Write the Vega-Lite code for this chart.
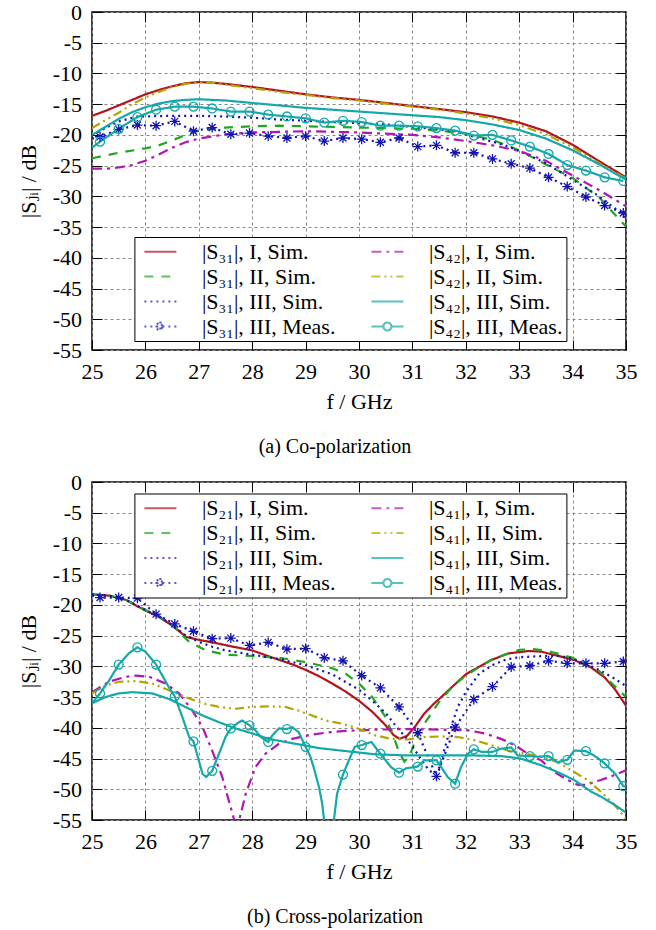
{
  "$schema": "https://vega.github.io/schema/vega-lite/v6.json",
  "background": "white",
  "padding": {"left": 16, "top": 0, "right": 5, "bottom": 5},
  "spacing": 12,
  "config": {
    "font": "'Liberation Serif', 'Times New Roman', Times, 'DejaVu Serif', serif",
    "view": {"stroke": "black", "strokeWidth": 1.5},
    "axis": {
      "labelFont": "'Liberation Serif', 'Times New Roman', Times, 'DejaVu Serif', serif", "labelFontSize": 22, "labelColor": "black",
      "titleFont": "'Liberation Serif', 'Times New Roman', Times, 'DejaVu Serif', serif", "titleFontSize": 22, "titleFontWeight": "normal", "titleColor": "black",
      "tickColor": "black", "tickWidth": 1, "tickSize": -10, "domain": false,
      "gridColor": "#888888", "gridDash": [3, 3], "gridWidth": 1, "gridOpacity": 1,
      "labelFlush": false, "labelOverlap": false
    },
    "legend": {
      "orient": "none", "columns": 2,
      "symbolSize": 400, "symbolStrokeWidth": 2.2, "symbolOffset": 11.5, "symbolFillColor": "transparent",
      "labelOffset": 30, "labelFont": "'Liberation Serif', 'Times New Roman', Times, 'DejaVu Serif', serif", "labelFontSize": 22, "labelColor": "black", "labelLimit": 0,
      "strokeColor": "black", "fillColor": "white", "padding": 3, "rowPadding": 2, "columnPadding": 28, "cornerRadius": 0
    },
    "title": {"font": "'Liberation Serif', 'Times New Roman', Times, 'DejaVu Serif', serif", "fontSize": 20, "fontWeight": "normal", "color": "black"}
  },
  "resolve": {"scale": {"color": "independent", "strokeDash": "independent", "shape": "independent", "x": "independent", "y": "independent"}},
  "datasets": {
    "a_lines": [
      {"s": "|S₃₁|, I, Sim.", "f": 25, "dB": -16.9}, {"s": "|S₃₁|, I, Sim.", "f": 25.25, "dB": -16.1}, {"s": "|S₃₁|, I, Sim.", "f": 25.5, "dB": -15.2}, {"s": "|S₃₁|, I, Sim.", "f": 25.75, "dB": -14.3}, {"s": "|S₃₁|, I, Sim.", "f": 26, "dB": -13.4}, {"s": "|S₃₁|, I, Sim.", "f": 26.25, "dB": -12.7}, {"s": "|S₃₁|, I, Sim.", "f": 26.5, "dB": -12.1}, {"s": "|S₃₁|, I, Sim.", "f": 26.75, "dB": -11.6}, {"s": "|S₃₁|, I, Sim.", "f": 27, "dB": -11.4}, {"s": "|S₃₁|, I, Sim.", "f": 27.25, "dB": -11.5}, {"s": "|S₃₁|, I, Sim.", "f": 27.5, "dB": -11.7}, {"s": "|S₃₁|, I, Sim.", "f": 28, "dB": -12.2}, {"s": "|S₃₁|, I, Sim.", "f": 28.5, "dB": -12.8}, {"s": "|S₃₁|, I, Sim.", "f": 29, "dB": -13.4}, {"s": "|S₃₁|, I, Sim.", "f": 29.5, "dB": -13.9}, {"s": "|S₃₁|, I, Sim.", "f": 30, "dB": -14.3}, {"s": "|S₃₁|, I, Sim.", "f": 30.5, "dB": -14.8}, {"s": "|S₃₁|, I, Sim.", "f": 31, "dB": -15.3}, {"s": "|S₃₁|, I, Sim.", "f": 31.5, "dB": -15.8}, {"s": "|S₃₁|, I, Sim.", "f": 32, "dB": -16.3}, {"s": "|S₃₁|, I, Sim.", "f": 32.5, "dB": -17.0}, {"s": "|S₃₁|, I, Sim.", "f": 33, "dB": -18.0}, {"s": "|S₃₁|, I, Sim.", "f": 33.5, "dB": -19.4}, {"s": "|S₃₁|, I, Sim.", "f": 34, "dB": -21.6}, {"s": "|S₃₁|, I, Sim.", "f": 34.5, "dB": -24.3}, {"s": "|S₃₁|, I, Sim.", "f": 35, "dB": -26.9},
      {"s": "|S₃₁|, II, Sim.", "f": 25, "dB": -23.8}, {"s": "|S₃₁|, II, Sim.", "f": 25.5, "dB": -22.9}, {"s": "|S₃₁|, II, Sim.", "f": 26, "dB": -22.2}, {"s": "|S₃₁|, II, Sim.", "f": 26.25, "dB": -21.7}, {"s": "|S₃₁|, II, Sim.", "f": 26.5, "dB": -20.9}, {"s": "|S₃₁|, II, Sim.", "f": 26.75, "dB": -20.0}, {"s": "|S₃₁|, II, Sim.", "f": 27, "dB": -19.3}, {"s": "|S₃₁|, II, Sim.", "f": 27.5, "dB": -18.8}, {"s": "|S₃₁|, II, Sim.", "f": 28, "dB": -18.6}, {"s": "|S₃₁|, II, Sim.", "f": 28.5, "dB": -18.5}, {"s": "|S₃₁|, II, Sim.", "f": 29, "dB": -18.6}, {"s": "|S₃₁|, II, Sim.", "f": 29.5, "dB": -18.7}, {"s": "|S₃₁|, II, Sim.", "f": 30, "dB": -18.8}, {"s": "|S₃₁|, II, Sim.", "f": 30.5, "dB": -18.9}, {"s": "|S₃₁|, II, Sim.", "f": 31, "dB": -19.0}, {"s": "|S₃₁|, II, Sim.", "f": 31.5, "dB": -19.3}, {"s": "|S₃₁|, II, Sim.", "f": 32, "dB": -19.8}, {"s": "|S₃₁|, II, Sim.", "f": 32.5, "dB": -20.8}, {"s": "|S₃₁|, II, Sim.", "f": 33, "dB": -22.5}, {"s": "|S₃₁|, II, Sim.", "f": 33.5, "dB": -24.8}, {"s": "|S₃₁|, II, Sim.", "f": 34, "dB": -27.0}, {"s": "|S₃₁|, II, Sim.", "f": 34.5, "dB": -30.2}, {"s": "|S₃₁|, II, Sim.", "f": 35, "dB": -34.9},
      {"s": "|S₃₁|, III, Sim.", "f": 25, "dB": -20.0}, {"s": "|S₃₁|, III, Sim.", "f": 25.25, "dB": -18.9}, {"s": "|S₃₁|, III, Sim.", "f": 25.5, "dB": -17.8}, {"s": "|S₃₁|, III, Sim.", "f": 25.85, "dB": -17.0}, {"s": "|S₃₁|, III, Sim.", "f": 26.5, "dB": -16.9}, {"s": "|S₃₁|, III, Sim.", "f": 27, "dB": -16.9}, {"s": "|S₃₁|, III, Sim.", "f": 27.5, "dB": -17.0}, {"s": "|S₃₁|, III, Sim.", "f": 28, "dB": -17.2}, {"s": "|S₃₁|, III, Sim.", "f": 28.5, "dB": -17.5}, {"s": "|S₃₁|, III, Sim.", "f": 29, "dB": -17.7}, {"s": "|S₃₁|, III, Sim.", "f": 29.5, "dB": -17.9}, {"s": "|S₃₁|, III, Sim.", "f": 30, "dB": -18.1}, {"s": "|S₃₁|, III, Sim.", "f": 30.5, "dB": -18.3}, {"s": "|S₃₁|, III, Sim.", "f": 31, "dB": -18.7}, {"s": "|S₃₁|, III, Sim.", "f": 31.5, "dB": -19.1}, {"s": "|S₃₁|, III, Sim.", "f": 31.8, "dB": -19.4}, {"s": "|S₃₁|, III, Sim.", "f": 32.15, "dB": -20.3}, {"s": "|S₃₁|, III, Sim.", "f": 32.5, "dB": -21.1}, {"s": "|S₃₁|, III, Sim.", "f": 32.8, "dB": -21.9}, {"s": "|S₃₁|, III, Sim.", "f": 33.15, "dB": -23.2}, {"s": "|S₃₁|, III, Sim.", "f": 33.5, "dB": -24.6}, {"s": "|S₃₁|, III, Sim.", "f": 33.8, "dB": -26.2}, {"s": "|S₃₁|, III, Sim.", "f": 34.15, "dB": -28.1}, {"s": "|S₃₁|, III, Sim.", "f": 34.5, "dB": -30.0}, {"s": "|S₃₁|, III, Sim.", "f": 34.8, "dB": -32.0}, {"s": "|S₃₁|, III, Sim.", "f": 35, "dB": -33.6},
      {"s": "|S₃₁|, III, Meas.", "f": 25, "dB": -20.6}, {"s": "|S₃₁|, III, Meas.", "f": 25.15, "dB": -20.3}, {"s": "|S₃₁|, III, Meas.", "f": 25.5, "dB": -19.1}, {"s": "|S₃₁|, III, Meas.", "f": 25.85, "dB": -18.4}, {"s": "|S₃₁|, III, Meas.", "f": 26.2, "dB": -18.5}, {"s": "|S₃₁|, III, Meas.", "f": 26.55, "dB": -17.8}, {"s": "|S₃₁|, III, Meas.", "f": 26.9, "dB": -19.4}, {"s": "|S₃₁|, III, Meas.", "f": 27.25, "dB": -18.8}, {"s": "|S₃₁|, III, Meas.", "f": 27.6, "dB": -19.9}, {"s": "|S₃₁|, III, Meas.", "f": 27.95, "dB": -19.7}, {"s": "|S₃₁|, III, Meas.", "f": 28.3, "dB": -20.2}, {"s": "|S₃₁|, III, Meas.", "f": 28.65, "dB": -20.5}, {"s": "|S₃₁|, III, Meas.", "f": 29.0, "dB": -20.2}, {"s": "|S₃₁|, III, Meas.", "f": 29.35, "dB": -21.0}, {"s": "|S₃₁|, III, Meas.", "f": 29.7, "dB": -20.5}, {"s": "|S₃₁|, III, Meas.", "f": 30.05, "dB": -20.7}, {"s": "|S₃₁|, III, Meas.", "f": 30.4, "dB": -21.2}, {"s": "|S₃₁|, III, Meas.", "f": 30.75, "dB": -20.5}, {"s": "|S₃₁|, III, Meas.", "f": 31.1, "dB": -21.9}, {"s": "|S₃₁|, III, Meas.", "f": 31.45, "dB": -21.7}, {"s": "|S₃₁|, III, Meas.", "f": 31.8, "dB": -22.9}, {"s": "|S₃₁|, III, Meas.", "f": 32.15, "dB": -22.9}, {"s": "|S₃₁|, III, Meas.", "f": 32.5, "dB": -23.9}, {"s": "|S₃₁|, III, Meas.", "f": 32.85, "dB": -24.7}, {"s": "|S₃₁|, III, Meas.", "f": 33.2, "dB": -25.4}, {"s": "|S₃₁|, III, Meas.", "f": 33.55, "dB": -26.9}, {"s": "|S₃₁|, III, Meas.", "f": 33.9, "dB": -28.4}, {"s": "|S₃₁|, III, Meas.", "f": 34.25, "dB": -30.1}, {"s": "|S₃₁|, III, Meas.", "f": 34.6, "dB": -31.5}, {"s": "|S₃₁|, III, Meas.", "f": 34.95, "dB": -32.7},
      {"s": "|S₄₂|, I, Sim.", "f": 25, "dB": -25.5}, {"s": "|S₄₂|, I, Sim.", "f": 25.25, "dB": -25.5}, {"s": "|S₄₂|, I, Sim.", "f": 25.5, "dB": -25.3}, {"s": "|S₄₂|, I, Sim.", "f": 25.75, "dB": -24.9}, {"s": "|S₄₂|, I, Sim.", "f": 26, "dB": -24.2}, {"s": "|S₄₂|, I, Sim.", "f": 26.25, "dB": -23.2}, {"s": "|S₄₂|, I, Sim.", "f": 26.5, "dB": -22.1}, {"s": "|S₄₂|, I, Sim.", "f": 26.75, "dB": -21.2}, {"s": "|S₄₂|, I, Sim.", "f": 27, "dB": -20.6}, {"s": "|S₄₂|, I, Sim.", "f": 27.5, "dB": -19.9}, {"s": "|S₄₂|, I, Sim.", "f": 28, "dB": -19.6}, {"s": "|S₄₂|, I, Sim.", "f": 28.5, "dB": -19.5}, {"s": "|S₄₂|, I, Sim.", "f": 29, "dB": -19.4}, {"s": "|S₄₂|, I, Sim.", "f": 29.5, "dB": -19.5}, {"s": "|S₄₂|, I, Sim.", "f": 30, "dB": -19.6}, {"s": "|S₄₂|, I, Sim.", "f": 30.5, "dB": -19.8}, {"s": "|S₄₂|, I, Sim.", "f": 31, "dB": -20.0}, {"s": "|S₄₂|, I, Sim.", "f": 31.5, "dB": -20.4}, {"s": "|S₄₂|, I, Sim.", "f": 32, "dB": -21.0}, {"s": "|S₄₂|, I, Sim.", "f": 32.5, "dB": -21.7}, {"s": "|S₄₂|, I, Sim.", "f": 33, "dB": -22.6}, {"s": "|S₄₂|, I, Sim.", "f": 33.5, "dB": -24.2}, {"s": "|S₄₂|, I, Sim.", "f": 34, "dB": -26.6}, {"s": "|S₄₂|, I, Sim.", "f": 34.5, "dB": -29.0}, {"s": "|S₄₂|, I, Sim.", "f": 35, "dB": -31.6},
      {"s": "|S₄₂|, II, Sim.", "f": 25, "dB": -18.9}, {"s": "|S₄₂|, II, Sim.", "f": 25.25, "dB": -17.6}, {"s": "|S₄₂|, II, Sim.", "f": 25.5, "dB": -16.4}, {"s": "|S₄₂|, II, Sim.", "f": 25.75, "dB": -15.0}, {"s": "|S₄₂|, II, Sim.", "f": 26, "dB": -13.9}, {"s": "|S₄₂|, II, Sim.", "f": 26.25, "dB": -13.0}, {"s": "|S₄₂|, II, Sim.", "f": 26.5, "dB": -12.2}, {"s": "|S₄₂|, II, Sim.", "f": 26.75, "dB": -11.7}, {"s": "|S₄₂|, II, Sim.", "f": 27, "dB": -11.4}, {"s": "|S₄₂|, II, Sim.", "f": 27.25, "dB": -11.5}, {"s": "|S₄₂|, II, Sim.", "f": 27.5, "dB": -11.8}, {"s": "|S₄₂|, II, Sim.", "f": 28, "dB": -12.4}, {"s": "|S₄₂|, II, Sim.", "f": 28.5, "dB": -13.0}, {"s": "|S₄₂|, II, Sim.", "f": 29, "dB": -13.5}, {"s": "|S₄₂|, II, Sim.", "f": 29.5, "dB": -14.0}, {"s": "|S₄₂|, II, Sim.", "f": 30, "dB": -14.4}, {"s": "|S₄₂|, II, Sim.", "f": 30.5, "dB": -14.9}, {"s": "|S₄₂|, II, Sim.", "f": 31, "dB": -15.4}, {"s": "|S₄₂|, II, Sim.", "f": 31.5, "dB": -15.9}, {"s": "|S₄₂|, II, Sim.", "f": 32, "dB": -16.5}, {"s": "|S₄₂|, II, Sim.", "f": 32.5, "dB": -17.3}, {"s": "|S₄₂|, II, Sim.", "f": 33, "dB": -18.4}, {"s": "|S₄₂|, II, Sim.", "f": 33.5, "dB": -19.9}, {"s": "|S₄₂|, II, Sim.", "f": 34, "dB": -22.0}, {"s": "|S₄₂|, II, Sim.", "f": 34.5, "dB": -24.6}, {"s": "|S₄₂|, II, Sim.", "f": 35, "dB": -27.1},
      {"s": "|S₄₂|, III, Sim.", "f": 25, "dB": -20.0}, {"s": "|S₄₂|, III, Sim.", "f": 25.25, "dB": -18.7}, {"s": "|S₄₂|, III, Sim.", "f": 25.5, "dB": -17.4}, {"s": "|S₄₂|, III, Sim.", "f": 25.75, "dB": -16.3}, {"s": "|S₄₂|, III, Sim.", "f": 26, "dB": -15.5}, {"s": "|S₄₂|, III, Sim.", "f": 26.25, "dB": -14.9}, {"s": "|S₄₂|, III, Sim.", "f": 26.5, "dB": -14.5}, {"s": "|S₄₂|, III, Sim.", "f": 26.75, "dB": -14.3}, {"s": "|S₄₂|, III, Sim.", "f": 27, "dB": -14.2}, {"s": "|S₄₂|, III, Sim.", "f": 27.5, "dB": -14.4}, {"s": "|S₄₂|, III, Sim.", "f": 28, "dB": -14.8}, {"s": "|S₄₂|, III, Sim.", "f": 28.5, "dB": -15.2}, {"s": "|S₄₂|, III, Sim.", "f": 29, "dB": -15.6}, {"s": "|S₄₂|, III, Sim.", "f": 29.5, "dB": -15.9}, {"s": "|S₄₂|, III, Sim.", "f": 30, "dB": -16.2}, {"s": "|S₄₂|, III, Sim.", "f": 30.5, "dB": -16.5}, {"s": "|S₄₂|, III, Sim.", "f": 31, "dB": -16.8}, {"s": "|S₄₂|, III, Sim.", "f": 31.5, "dB": -17.1}, {"s": "|S₄₂|, III, Sim.", "f": 32, "dB": -17.6}, {"s": "|S₄₂|, III, Sim.", "f": 32.5, "dB": -18.3}, {"s": "|S₄₂|, III, Sim.", "f": 33, "dB": -19.2}, {"s": "|S₄₂|, III, Sim.", "f": 33.5, "dB": -20.6}, {"s": "|S₄₂|, III, Sim.", "f": 34, "dB": -22.5}, {"s": "|S₄₂|, III, Sim.", "f": 34.5, "dB": -24.8}, {"s": "|S₄₂|, III, Sim.", "f": 35, "dB": -27.3},
      {"s": "|S₄₂|, III, Meas.", "f": 25, "dB": -22.1}, {"s": "|S₄₂|, III, Meas.", "f": 25.15, "dB": -21.1}, {"s": "|S₄₂|, III, Meas.", "f": 25.5, "dB": -19.0}, {"s": "|S₄₂|, III, Meas.", "f": 25.85, "dB": -17.1}, {"s": "|S₄₂|, III, Meas.", "f": 26.2, "dB": -15.9}, {"s": "|S₄₂|, III, Meas.", "f": 26.55, "dB": -15.4}, {"s": "|S₄₂|, III, Meas.", "f": 26.9, "dB": -15.4}, {"s": "|S₄₂|, III, Meas.", "f": 27.25, "dB": -15.7}, {"s": "|S₄₂|, III, Meas.", "f": 27.6, "dB": -16.2}, {"s": "|S₄₂|, III, Meas.", "f": 27.95, "dB": -16.2}, {"s": "|S₄₂|, III, Meas.", "f": 28.3, "dB": -16.7}, {"s": "|S₄₂|, III, Meas.", "f": 28.65, "dB": -17.0}, {"s": "|S₄₂|, III, Meas.", "f": 29.0, "dB": -17.3}, {"s": "|S₄₂|, III, Meas.", "f": 29.35, "dB": -18.0}, {"s": "|S₄₂|, III, Meas.", "f": 29.7, "dB": -17.7}, {"s": "|S₄₂|, III, Meas.", "f": 30.05, "dB": -17.9}, {"s": "|S₄₂|, III, Meas.", "f": 30.4, "dB": -18.5}, {"s": "|S₄₂|, III, Meas.", "f": 30.75, "dB": -18.5}, {"s": "|S₄₂|, III, Meas.", "f": 31.1, "dB": -18.6}, {"s": "|S₄₂|, III, Meas.", "f": 31.45, "dB": -18.9}, {"s": "|S₄₂|, III, Meas.", "f": 31.8, "dB": -19.3}, {"s": "|S₄₂|, III, Meas.", "f": 32.15, "dB": -20.1}, {"s": "|S₄₂|, III, Meas.", "f": 32.5, "dB": -20.0}, {"s": "|S₄₂|, III, Meas.", "f": 32.85, "dB": -20.9}, {"s": "|S₄₂|, III, Meas.", "f": 33.2, "dB": -21.9}, {"s": "|S₄₂|, III, Meas.", "f": 33.55, "dB": -23.1}, {"s": "|S₄₂|, III, Meas.", "f": 33.9, "dB": -24.9}, {"s": "|S₄₂|, III, Meas.", "f": 34.25, "dB": -25.8}, {"s": "|S₄₂|, III, Meas.", "f": 34.6, "dB": -26.9}, {"s": "|S₄₂|, III, Meas.", "f": 34.95, "dB": -27.5}
    ],
    "a_markers": [
      {"s": "|S₃₁|, III, Meas.", "f": 25.15, "dB": -20.3}, {"s": "|S₃₁|, III, Meas.", "f": 25.5, "dB": -19.1}, {"s": "|S₃₁|, III, Meas.", "f": 25.85, "dB": -18.4}, {"s": "|S₃₁|, III, Meas.", "f": 26.2, "dB": -18.5}, {"s": "|S₃₁|, III, Meas.", "f": 26.55, "dB": -17.8}, {"s": "|S₃₁|, III, Meas.", "f": 26.9, "dB": -19.4}, {"s": "|S₃₁|, III, Meas.", "f": 27.25, "dB": -18.8}, {"s": "|S₃₁|, III, Meas.", "f": 27.6, "dB": -19.9}, {"s": "|S₃₁|, III, Meas.", "f": 27.95, "dB": -19.7}, {"s": "|S₃₁|, III, Meas.", "f": 28.3, "dB": -20.2}, {"s": "|S₃₁|, III, Meas.", "f": 28.65, "dB": -20.5}, {"s": "|S₃₁|, III, Meas.", "f": 29.0, "dB": -20.2}, {"s": "|S₃₁|, III, Meas.", "f": 29.35, "dB": -21.0}, {"s": "|S₃₁|, III, Meas.", "f": 29.7, "dB": -20.5}, {"s": "|S₃₁|, III, Meas.", "f": 30.05, "dB": -20.7}, {"s": "|S₃₁|, III, Meas.", "f": 30.4, "dB": -21.2}, {"s": "|S₃₁|, III, Meas.", "f": 30.75, "dB": -20.5}, {"s": "|S₃₁|, III, Meas.", "f": 31.1, "dB": -21.9}, {"s": "|S₃₁|, III, Meas.", "f": 31.45, "dB": -21.7}, {"s": "|S₃₁|, III, Meas.", "f": 31.8, "dB": -22.9}, {"s": "|S₃₁|, III, Meas.", "f": 32.15, "dB": -22.9}, {"s": "|S₃₁|, III, Meas.", "f": 32.5, "dB": -23.9}, {"s": "|S₃₁|, III, Meas.", "f": 32.85, "dB": -24.7}, {"s": "|S₃₁|, III, Meas.", "f": 33.2, "dB": -25.4}, {"s": "|S₃₁|, III, Meas.", "f": 33.55, "dB": -26.9}, {"s": "|S₃₁|, III, Meas.", "f": 33.9, "dB": -28.4}, {"s": "|S₃₁|, III, Meas.", "f": 34.25, "dB": -30.1}, {"s": "|S₃₁|, III, Meas.", "f": 34.6, "dB": -31.5}, {"s": "|S₃₁|, III, Meas.", "f": 34.95, "dB": -32.7},
      {"s": "|S₄₂|, III, Meas.", "f": 25.15, "dB": -21.1}, {"s": "|S₄₂|, III, Meas.", "f": 25.5, "dB": -19.0}, {"s": "|S₄₂|, III, Meas.", "f": 25.85, "dB": -17.1}, {"s": "|S₄₂|, III, Meas.", "f": 26.2, "dB": -15.9}, {"s": "|S₄₂|, III, Meas.", "f": 26.55, "dB": -15.4}, {"s": "|S₄₂|, III, Meas.", "f": 26.9, "dB": -15.4}, {"s": "|S₄₂|, III, Meas.", "f": 27.25, "dB": -15.7}, {"s": "|S₄₂|, III, Meas.", "f": 27.6, "dB": -16.2}, {"s": "|S₄₂|, III, Meas.", "f": 27.95, "dB": -16.2}, {"s": "|S₄₂|, III, Meas.", "f": 28.3, "dB": -16.7}, {"s": "|S₄₂|, III, Meas.", "f": 28.65, "dB": -17.0}, {"s": "|S₄₂|, III, Meas.", "f": 29.0, "dB": -17.3}, {"s": "|S₄₂|, III, Meas.", "f": 29.35, "dB": -18.0}, {"s": "|S₄₂|, III, Meas.", "f": 29.7, "dB": -17.7}, {"s": "|S₄₂|, III, Meas.", "f": 30.05, "dB": -17.9}, {"s": "|S₄₂|, III, Meas.", "f": 30.4, "dB": -18.5}, {"s": "|S₄₂|, III, Meas.", "f": 30.75, "dB": -18.5}, {"s": "|S₄₂|, III, Meas.", "f": 31.1, "dB": -18.6}, {"s": "|S₄₂|, III, Meas.", "f": 31.45, "dB": -18.9}, {"s": "|S₄₂|, III, Meas.", "f": 31.8, "dB": -19.3}, {"s": "|S₄₂|, III, Meas.", "f": 32.15, "dB": -20.1}, {"s": "|S₄₂|, III, Meas.", "f": 32.5, "dB": -20.0}, {"s": "|S₄₂|, III, Meas.", "f": 32.85, "dB": -20.9}, {"s": "|S₄₂|, III, Meas.", "f": 33.2, "dB": -21.9}, {"s": "|S₄₂|, III, Meas.", "f": 33.55, "dB": -23.1}, {"s": "|S₄₂|, III, Meas.", "f": 33.9, "dB": -24.9}, {"s": "|S₄₂|, III, Meas.", "f": 34.25, "dB": -25.8}, {"s": "|S₄₂|, III, Meas.", "f": 34.6, "dB": -26.9}, {"s": "|S₄₂|, III, Meas.", "f": 34.95, "dB": -27.5}
    ],
    "b_lines": [
      {"s": "|S₂₁|, I, Sim.", "f": 25, "dB": -18.3}, {"s": "|S₂₁|, I, Sim.", "f": 25.33, "dB": -18.5}, {"s": "|S₂₁|, I, Sim.", "f": 25.64, "dB": -19.2}, {"s": "|S₂₁|, I, Sim.", "f": 25.95, "dB": -20.7}, {"s": "|S₂₁|, I, Sim.", "f": 26.26, "dB": -22.0}, {"s": "|S₂₁|, I, Sim.", "f": 26.51, "dB": -23.4}, {"s": "|S₂₁|, I, Sim.", "f": 26.76, "dB": -25.2}, {"s": "|S₂₁|, I, Sim.", "f": 27.01, "dB": -25.7}, {"s": "|S₂₁|, I, Sim.", "f": 27.26, "dB": -26.1}, {"s": "|S₂₁|, I, Sim.", "f": 27.64, "dB": -26.8}, {"s": "|S₂₁|, I, Sim.", "f": 28, "dB": -27.4}, {"s": "|S₂₁|, I, Sim.", "f": 28.39, "dB": -28.6}, {"s": "|S₂₁|, I, Sim.", "f": 28.76, "dB": -29.7}, {"s": "|S₂₁|, I, Sim.", "f": 29.01, "dB": -30.6}, {"s": "|S₂₁|, I, Sim.", "f": 29.25, "dB": -31.6}, {"s": "|S₂₁|, I, Sim.", "f": 29.5, "dB": -32.8}, {"s": "|S₂₁|, I, Sim.", "f": 29.75, "dB": -34.1}, {"s": "|S₂₁|, I, Sim.", "f": 30, "dB": -35.6}, {"s": "|S₂₁|, I, Sim.", "f": 30.25, "dB": -37.4}, {"s": "|S₂₁|, I, Sim.", "f": 30.5, "dB": -39.6}, {"s": "|S₂₁|, I, Sim.", "f": 30.65, "dB": -41.2}, {"s": "|S₂₁|, I, Sim.", "f": 30.76, "dB": -41.8}, {"s": "|S₂₁|, I, Sim.", "f": 30.9, "dB": -41.3}, {"s": "|S₂₁|, I, Sim.", "f": 31.05, "dB": -39.8}, {"s": "|S₂₁|, I, Sim.", "f": 31.22, "dB": -37.7}, {"s": "|S₂₁|, I, Sim.", "f": 31.4, "dB": -36.1}, {"s": "|S₂₁|, I, Sim.", "f": 31.54, "dB": -35.0}, {"s": "|S₂₁|, I, Sim.", "f": 31.7, "dB": -33.7}, {"s": "|S₂₁|, I, Sim.", "f": 31.85, "dB": -32.5}, {"s": "|S₂₁|, I, Sim.", "f": 32, "dB": -31.3}, {"s": "|S₂₁|, I, Sim.", "f": 32.16, "dB": -30.5}, {"s": "|S₂₁|, I, Sim.", "f": 32.47, "dB": -29.0}, {"s": "|S₂₁|, I, Sim.", "f": 32.79, "dB": -27.9}, {"s": "|S₂₁|, I, Sim.", "f": 33.17, "dB": -27.5}, {"s": "|S₂₁|, I, Sim.", "f": 33.41, "dB": -27.6}, {"s": "|S₂₁|, I, Sim.", "f": 33.73, "dB": -28.3}, {"s": "|S₂₁|, I, Sim.", "f": 34.04, "dB": -29.0}, {"s": "|S₂₁|, I, Sim.", "f": 34.35, "dB": -30.2}, {"s": "|S₂₁|, I, Sim.", "f": 34.6, "dB": -31.8}, {"s": "|S₂₁|, I, Sim.", "f": 34.8, "dB": -33.8}, {"s": "|S₂₁|, I, Sim.", "f": 35, "dB": -36.4},
      {"s": "|S₂₁|, II, Sim.", "f": 25, "dB": -18.3}, {"s": "|S₂₁|, II, Sim.", "f": 25.33, "dB": -18.5}, {"s": "|S₂₁|, II, Sim.", "f": 25.64, "dB": -19.2}, {"s": "|S₂₁|, II, Sim.", "f": 25.95, "dB": -20.6}, {"s": "|S₂₁|, II, Sim.", "f": 26.26, "dB": -21.9}, {"s": "|S₂₁|, II, Sim.", "f": 26.51, "dB": -23.4}, {"s": "|S₂₁|, II, Sim.", "f": 26.7, "dB": -25.0}, {"s": "|S₂₁|, II, Sim.", "f": 26.83, "dB": -26.1}, {"s": "|S₂₁|, II, Sim.", "f": 27.14, "dB": -27.4}, {"s": "|S₂₁|, II, Sim.", "f": 27.5, "dB": -28.1}, {"s": "|S₂₁|, II, Sim.", "f": 28, "dB": -28.3}, {"s": "|S₂₁|, II, Sim.", "f": 28.5, "dB": -28.6}, {"s": "|S₂₁|, II, Sim.", "f": 29, "dB": -29.3}, {"s": "|S₂₁|, II, Sim.", "f": 29.5, "dB": -30.3}, {"s": "|S₂₁|, II, Sim.", "f": 29.75, "dB": -31.2}, {"s": "|S₂₁|, II, Sim.", "f": 30, "dB": -32.8}, {"s": "|S₂₁|, II, Sim.", "f": 30.25, "dB": -35.0}, {"s": "|S₂₁|, II, Sim.", "f": 30.5, "dB": -38.3}, {"s": "|S₂₁|, II, Sim.", "f": 30.65, "dB": -41.5}, {"s": "|S₂₁|, II, Sim.", "f": 30.75, "dB": -44.0}, {"s": "|S₂₁|, II, Sim.", "f": 30.85, "dB": -45.5}, {"s": "|S₂₁|, II, Sim.", "f": 30.95, "dB": -44.5}, {"s": "|S₂₁|, II, Sim.", "f": 31.05, "dB": -42.2}, {"s": "|S₂₁|, II, Sim.", "f": 31.15, "dB": -40.3}, {"s": "|S₂₁|, II, Sim.", "f": 31.25, "dB": -39.0}, {"s": "|S₂₁|, II, Sim.", "f": 31.5, "dB": -35.8}, {"s": "|S₂₁|, II, Sim.", "f": 31.75, "dB": -33.3}, {"s": "|S₂₁|, II, Sim.", "f": 32, "dB": -31.5}, {"s": "|S₂₁|, II, Sim.", "f": 32.5, "dB": -28.8}, {"s": "|S₂₁|, II, Sim.", "f": 33, "dB": -27.3}, {"s": "|S₂₁|, II, Sim.", "f": 33.25, "dB": -27.2}, {"s": "|S₂₁|, II, Sim.", "f": 33.5, "dB": -27.4}, {"s": "|S₂₁|, II, Sim.", "f": 34, "dB": -28.6}, {"s": "|S₂₁|, II, Sim.", "f": 34.5, "dB": -30.8}, {"s": "|S₂₁|, II, Sim.", "f": 35, "dB": -35.0},
      {"s": "|S₂₁|, III, Sim.", "f": 25, "dB": -18.3}, {"s": "|S₂₁|, III, Sim.", "f": 25.33, "dB": -18.5}, {"s": "|S₂₁|, III, Sim.", "f": 25.64, "dB": -19.2}, {"s": "|S₂₁|, III, Sim.", "f": 25.95, "dB": -20.6}, {"s": "|S₂₁|, III, Sim.", "f": 26.26, "dB": -21.9}, {"s": "|S₂₁|, III, Sim.", "f": 26.51, "dB": -23.3}, {"s": "|S₂₁|, III, Sim.", "f": 26.76, "dB": -25.0}, {"s": "|S₂₁|, III, Sim.", "f": 27, "dB": -26.0}, {"s": "|S₂₁|, III, Sim.", "f": 27.25, "dB": -26.8}, {"s": "|S₂₁|, III, Sim.", "f": 27.5, "dB": -27.4}, {"s": "|S₂₁|, III, Sim.", "f": 28, "dB": -28.1}, {"s": "|S₂₁|, III, Sim.", "f": 28.5, "dB": -28.8}, {"s": "|S₂₁|, III, Sim.", "f": 29, "dB": -29.8}, {"s": "|S₂₁|, III, Sim.", "f": 29.5, "dB": -31.3}, {"s": "|S₂₁|, III, Sim.", "f": 30, "dB": -33.8}, {"s": "|S₂₁|, III, Sim.", "f": 30.25, "dB": -35.6}, {"s": "|S₂₁|, III, Sim.", "f": 30.5, "dB": -37.6}, {"s": "|S₂₁|, III, Sim.", "f": 30.7, "dB": -39.8}, {"s": "|S₂₁|, III, Sim.", "f": 30.85, "dB": -41.3}, {"s": "|S₂₁|, III, Sim.", "f": 31, "dB": -43.0}, {"s": "|S₂₁|, III, Sim.", "f": 31.15, "dB": -45.0}, {"s": "|S₂₁|, III, Sim.", "f": 31.3, "dB": -46.8}, {"s": "|S₂₁|, III, Sim.", "f": 31.4, "dB": -47.5}, {"s": "|S₂₁|, III, Sim.", "f": 31.5, "dB": -46.5}, {"s": "|S₂₁|, III, Sim.", "f": 31.6, "dB": -43.5}, {"s": "|S₂₁|, III, Sim.", "f": 31.7, "dB": -40.5}, {"s": "|S₂₁|, III, Sim.", "f": 31.85, "dB": -36.6}, {"s": "|S₂₁|, III, Sim.", "f": 32, "dB": -34.2}, {"s": "|S₂₁|, III, Sim.", "f": 32.25, "dB": -31.2}, {"s": "|S₂₁|, III, Sim.", "f": 32.5, "dB": -29.8}, {"s": "|S₂₁|, III, Sim.", "f": 32.75, "dB": -28.9}, {"s": "|S₂₁|, III, Sim.", "f": 33, "dB": -28.5}, {"s": "|S₂₁|, III, Sim.", "f": 33.25, "dB": -28.4}, {"s": "|S₂₁|, III, Sim.", "f": 33.5, "dB": -28.3}, {"s": "|S₂₁|, III, Sim.", "f": 33.75, "dB": -28.3}, {"s": "|S₂₁|, III, Sim.", "f": 34, "dB": -28.7}, {"s": "|S₂₁|, III, Sim.", "f": 34.25, "dB": -29.6}, {"s": "|S₂₁|, III, Sim.", "f": 34.5, "dB": -30.6}, {"s": "|S₂₁|, III, Sim.", "f": 34.75, "dB": -31.8}, {"s": "|S₂₁|, III, Sim.", "f": 35, "dB": -33.2},
      {"s": "|S₂₁|, III, Meas.", "f": 25, "dB": -18.5}, {"s": "|S₂₁|, III, Meas.", "f": 25.15, "dB": -18.8}, {"s": "|S₂₁|, III, Meas.", "f": 25.5, "dB": -18.8}, {"s": "|S₂₁|, III, Meas.", "f": 25.85, "dB": -18.9}, {"s": "|S₂₁|, III, Meas.", "f": 26.2, "dB": -21.5}, {"s": "|S₂₁|, III, Meas.", "f": 26.55, "dB": -23.1}, {"s": "|S₂₁|, III, Meas.", "f": 26.9, "dB": -24.3}, {"s": "|S₂₁|, III, Meas.", "f": 27.25, "dB": -25.5}, {"s": "|S₂₁|, III, Meas.", "f": 27.6, "dB": -25.4}, {"s": "|S₂₁|, III, Meas.", "f": 27.95, "dB": -26.6}, {"s": "|S₂₁|, III, Meas.", "f": 28.3, "dB": -26.1}, {"s": "|S₂₁|, III, Meas.", "f": 28.65, "dB": -27.2}, {"s": "|S₂₁|, III, Meas.", "f": 29.0, "dB": -27.1}, {"s": "|S₂₁|, III, Meas.", "f": 29.35, "dB": -28.6}, {"s": "|S₂₁|, III, Meas.", "f": 29.7, "dB": -29.1}, {"s": "|S₂₁|, III, Meas.", "f": 30.05, "dB": -31.5}, {"s": "|S₂₁|, III, Meas.", "f": 30.4, "dB": -33.5}, {"s": "|S₂₁|, III, Meas.", "f": 30.75, "dB": -36.6}, {"s": "|S₂₁|, III, Meas.", "f": 31.1, "dB": -40.8}, {"s": "|S₂₁|, III, Meas.", "f": 31.45, "dB": -47.9}, {"s": "|S₂₁|, III, Meas.", "f": 31.8, "dB": -39.9}, {"s": "|S₂₁|, III, Meas.", "f": 32.15, "dB": -35.4}, {"s": "|S₂₁|, III, Meas.", "f": 32.5, "dB": -33.3}, {"s": "|S₂₁|, III, Meas.", "f": 32.85, "dB": -30.1}, {"s": "|S₂₁|, III, Meas.", "f": 33.2, "dB": -29.9}, {"s": "|S₂₁|, III, Meas.", "f": 33.55, "dB": -29.1}, {"s": "|S₂₁|, III, Meas.", "f": 33.9, "dB": -29.5}, {"s": "|S₂₁|, III, Meas.", "f": 34.25, "dB": -29.5}, {"s": "|S₂₁|, III, Meas.", "f": 34.6, "dB": -29.5}, {"s": "|S₂₁|, III, Meas.", "f": 34.95, "dB": -29.2},
      {"s": "|S₄₁|, I, Sim.", "f": 25, "dB": -34.2}, {"s": "|S₄₁|, I, Sim.", "f": 25.32, "dB": -32.5}, {"s": "|S₄₁|, I, Sim.", "f": 25.63, "dB": -31.7}, {"s": "|S₄₁|, I, Sim.", "f": 25.82, "dB": -31.5}, {"s": "|S₄₁|, I, Sim.", "f": 26.07, "dB": -31.7}, {"s": "|S₄₁|, I, Sim.", "f": 26.38, "dB": -32.8}, {"s": "|S₄₁|, I, Sim.", "f": 26.63, "dB": -34.4}, {"s": "|S₄₁|, I, Sim.", "f": 26.88, "dB": -37.2}, {"s": "|S₄₁|, I, Sim.", "f": 27.07, "dB": -39.9}, {"s": "|S₄₁|, I, Sim.", "f": 27.25, "dB": -43.7}, {"s": "|S₄₁|, I, Sim.", "f": 27.44, "dB": -48.0}, {"s": "|S₄₁|, I, Sim.", "f": 27.56, "dB": -51.8}, {"s": "|S₄₁|, I, Sim.", "f": 27.66, "dB": -54.9}, {"s": "|S₄₁|, I, Sim.", "f": 27.71, "dB": -57.5}, {"s": "|S₄₁|, I, Sim.", "f": 27.76, "dB": -54.9}, {"s": "|S₄₁|, I, Sim.", "f": 27.88, "dB": -50.7}, {"s": "|S₄₁|, I, Sim.", "f": 28.06, "dB": -46.4}, {"s": "|S₄₁|, I, Sim.", "f": 28.25, "dB": -44.2}, {"s": "|S₄₁|, I, Sim.", "f": 28.5, "dB": -42.6}, {"s": "|S₄₁|, I, Sim.", "f": 28.75, "dB": -41.8}, {"s": "|S₄₁|, I, Sim.", "f": 29.06, "dB": -41.2}, {"s": "|S₄₁|, I, Sim.", "f": 29.37, "dB": -40.8}, {"s": "|S₄₁|, I, Sim.", "f": 29.75, "dB": -40.5}, {"s": "|S₄₁|, I, Sim.", "f": 30.29, "dB": -40.3}, {"s": "|S₄₁|, I, Sim.", "f": 30.91, "dB": -40.2}, {"s": "|S₄₁|, I, Sim.", "f": 31.54, "dB": -40.3}, {"s": "|S₄₁|, I, Sim.", "f": 32.04, "dB": -40.4}, {"s": "|S₄₁|, I, Sim.", "f": 32.35, "dB": -40.9}, {"s": "|S₄₁|, I, Sim.", "f": 32.66, "dB": -41.8}, {"s": "|S₄₁|, I, Sim.", "f": 32.91, "dB": -42.8}, {"s": "|S₄₁|, I, Sim.", "f": 33.16, "dB": -44.2}, {"s": "|S₄₁|, I, Sim.", "f": 33.41, "dB": -45.3}, {"s": "|S₄₁|, I, Sim.", "f": 33.66, "dB": -47.2}, {"s": "|S₄₁|, I, Sim.", "f": 33.91, "dB": -48.5}, {"s": "|S₄₁|, I, Sim.", "f": 34.1, "dB": -49.3}, {"s": "|S₄₁|, I, Sim.", "f": 34.28, "dB": -49.3}, {"s": "|S₄₁|, I, Sim.", "f": 34.4, "dB": -48.8}, {"s": "|S₄₁|, I, Sim.", "f": 34.53, "dB": -48.5}, {"s": "|S₄₁|, I, Sim.", "f": 34.75, "dB": -47.8}, {"s": "|S₄₁|, I, Sim.", "f": 35, "dB": -46.9},
      {"s": "|S₄₁|, II, Sim.", "f": 25, "dB": -34.4}, {"s": "|S₄₁|, II, Sim.", "f": 25.26, "dB": -33.1}, {"s": "|S₄₁|, II, Sim.", "f": 25.51, "dB": -32.5}, {"s": "|S₄₁|, II, Sim.", "f": 25.82, "dB": -32.4}, {"s": "|S₄₁|, II, Sim.", "f": 26.13, "dB": -32.8}, {"s": "|S₄₁|, II, Sim.", "f": 26.44, "dB": -33.9}, {"s": "|S₄₁|, II, Sim.", "f": 26.75, "dB": -35.0}, {"s": "|S₄₁|, II, Sim.", "f": 27.07, "dB": -36.0}, {"s": "|S₄₁|, II, Sim.", "f": 27.38, "dB": -36.6}, {"s": "|S₄₁|, II, Sim.", "f": 27.69, "dB": -36.9}, {"s": "|S₄₁|, II, Sim.", "f": 28, "dB": -36.6}, {"s": "|S₄₁|, II, Sim.", "f": 28.31, "dB": -36.5}, {"s": "|S₄₁|, II, Sim.", "f": 28.62, "dB": -36.6}, {"s": "|S₄₁|, II, Sim.", "f": 28.87, "dB": -37.2}, {"s": "|S₄₁|, II, Sim.", "f": 29.12, "dB": -38.0}, {"s": "|S₄₁|, II, Sim.", "f": 29.37, "dB": -38.8}, {"s": "|S₄₁|, II, Sim.", "f": 29.67, "dB": -39.3}, {"s": "|S₄₁|, II, Sim.", "f": 29.98, "dB": -40.1}, {"s": "|S₄₁|, II, Sim.", "f": 30.29, "dB": -41.2}, {"s": "|S₄₁|, II, Sim.", "f": 30.6, "dB": -41.8}, {"s": "|S₄₁|, II, Sim.", "f": 30.91, "dB": -41.9}, {"s": "|S₄₁|, II, Sim.", "f": 31.22, "dB": -41.5}, {"s": "|S₄₁|, II, Sim.", "f": 31.54, "dB": -41.4}, {"s": "|S₄₁|, II, Sim.", "f": 31.85, "dB": -41.5}, {"s": "|S₄₁|, II, Sim.", "f": 32.16, "dB": -42.0}, {"s": "|S₄₁|, II, Sim.", "f": 32.47, "dB": -42.8}, {"s": "|S₄₁|, II, Sim.", "f": 32.78, "dB": -43.7}, {"s": "|S₄₁|, II, Sim.", "f": 33.1, "dB": -44.2}, {"s": "|S₄₁|, II, Sim.", "f": 33.41, "dB": -44.7}, {"s": "|S₄₁|, II, Sim.", "f": 33.72, "dB": -45.6}, {"s": "|S₄₁|, II, Sim.", "f": 34.03, "dB": -47.2}, {"s": "|S₄₁|, II, Sim.", "f": 34.28, "dB": -48.5}, {"s": "|S₄₁|, II, Sim.", "f": 34.53, "dB": -50.4}, {"s": "|S₄₁|, II, Sim.", "f": 34.78, "dB": -52.5}, {"s": "|S₄₁|, II, Sim.", "f": 35, "dB": -54.8},
      {"s": "|S₄₁|, III, Sim.", "f": 25, "dB": -36.0}, {"s": "|S₄₁|, III, Sim.", "f": 25.25, "dB": -35.0}, {"s": "|S₄₁|, III, Sim.", "f": 25.5, "dB": -34.4}, {"s": "|S₄₁|, III, Sim.", "f": 25.75, "dB": -34.2}, {"s": "|S₄₁|, III, Sim.", "f": 26.13, "dB": -34.4}, {"s": "|S₄₁|, III, Sim.", "f": 26.44, "dB": -35.3}, {"s": "|S₄₁|, III, Sim.", "f": 26.75, "dB": -36.6}, {"s": "|S₄₁|, III, Sim.", "f": 27.07, "dB": -38.0}, {"s": "|S₄₁|, III, Sim.", "f": 27.38, "dB": -39.1}, {"s": "|S₄₁|, III, Sim.", "f": 27.69, "dB": -40.1}, {"s": "|S₄₁|, III, Sim.", "f": 28, "dB": -40.9}, {"s": "|S₄₁|, III, Sim.", "f": 28.31, "dB": -41.8}, {"s": "|S₄₁|, III, Sim.", "f": 28.62, "dB": -42.3}, {"s": "|S₄₁|, III, Sim.", "f": 28.94, "dB": -42.8}, {"s": "|S₄₁|, III, Sim.", "f": 29.25, "dB": -43.3}, {"s": "|S₄₁|, III, Sim.", "f": 29.56, "dB": -43.6}, {"s": "|S₄₁|, III, Sim.", "f": 29.87, "dB": -43.9}, {"s": "|S₄₁|, III, Sim.", "f": 30.29, "dB": -44.3}, {"s": "|S₄₁|, III, Sim.", "f": 30.91, "dB": -44.5}, {"s": "|S₄₁|, III, Sim.", "f": 31.54, "dB": -44.5}, {"s": "|S₄₁|, III, Sim.", "f": 32.16, "dB": -44.5}, {"s": "|S₄₁|, III, Sim.", "f": 32.66, "dB": -44.6}, {"s": "|S₄₁|, III, Sim.", "f": 33.03, "dB": -45.0}, {"s": "|S₄₁|, III, Sim.", "f": 33.41, "dB": -46.1}, {"s": "|S₄₁|, III, Sim.", "f": 33.72, "dB": -47.2}, {"s": "|S₄₁|, III, Sim.", "f": 34.03, "dB": -48.5}, {"s": "|S₄₁|, III, Sim.", "f": 34.35, "dB": -50.4}, {"s": "|S₄₁|, III, Sim.", "f": 34.53, "dB": -51.2}, {"s": "|S₄₁|, III, Sim.", "f": 34.8, "dB": -52.6}, {"s": "|S₄₁|, III, Sim.", "f": 35, "dB": -53.8},
      {"s": "|S₄₁|, III, Meas.", "f": 25, "dB": -36.0}, {"s": "|S₄₁|, III, Meas.", "f": 25.15, "dB": -34.4}, {"s": "|S₄₁|, III, Meas.", "f": 25.32, "dB": -32.3}, {"s": "|S₄₁|, III, Meas.", "f": 25.5, "dB": -29.7}, {"s": "|S₄₁|, III, Meas.", "f": 25.7, "dB": -27.8}, {"s": "|S₄₁|, III, Meas.", "f": 25.85, "dB": -26.9}, {"s": "|S₄₁|, III, Meas.", "f": 26.0, "dB": -27.6}, {"s": "|S₄₁|, III, Meas.", "f": 26.2, "dB": -29.7}, {"s": "|S₄₁|, III, Meas.", "f": 26.44, "dB": -33.4}, {"s": "|S₄₁|, III, Meas.", "f": 26.55, "dB": -34.9}, {"s": "|S₄₁|, III, Meas.", "f": 26.69, "dB": -38.2}, {"s": "|S₄₁|, III, Meas.", "f": 26.82, "dB": -41.5}, {"s": "|S₄₁|, III, Meas.", "f": 26.9, "dB": -42.2}, {"s": "|S₄₁|, III, Meas.", "f": 27.07, "dB": -47.5}, {"s": "|S₄₁|, III, Meas.", "f": 27.14, "dB": -48.0}, {"s": "|S₄₁|, III, Meas.", "f": 27.25, "dB": -47.0}, {"s": "|S₄₁|, III, Meas.", "f": 27.38, "dB": -44.2}, {"s": "|S₄₁|, III, Meas.", "f": 27.5, "dB": -41.5}, {"s": "|S₄₁|, III, Meas.", "f": 27.6, "dB": -40.1}, {"s": "|S₄₁|, III, Meas.", "f": 27.75, "dB": -39.1}, {"s": "|S₄₁|, III, Meas.", "f": 27.81, "dB": -38.8}, {"s": "|S₄₁|, III, Meas.", "f": 27.95, "dB": -39.6}, {"s": "|S₄₁|, III, Meas.", "f": 28.06, "dB": -40.4}, {"s": "|S₄₁|, III, Meas.", "f": 28.16, "dB": -41.5}, {"s": "|S₄₁|, III, Meas.", "f": 28.3, "dB": -42.3}, {"s": "|S₄₁|, III, Meas.", "f": 28.38, "dB": -41.2}, {"s": "|S₄₁|, III, Meas.", "f": 28.5, "dB": -40.1}, {"s": "|S₄₁|, III, Meas.", "f": 28.65, "dB": -40.2}, {"s": "|S₄₁|, III, Meas.", "f": 28.75, "dB": -39.9}, {"s": "|S₄₁|, III, Meas.", "f": 28.87, "dB": -40.7}, {"s": "|S₄₁|, III, Meas.", "f": 29.0, "dB": -43.1}, {"s": "|S₄₁|, III, Meas.", "f": 29.09, "dB": -44.7}, {"s": "|S₄₁|, III, Meas.", "f": 29.15, "dB": -46.4}, {"s": "|S₄₁|, III, Meas.", "f": 29.25, "dB": -49.6}, {"s": "|S₄₁|, III, Meas.", "f": 29.31, "dB": -52.3}, {"s": "|S₄₁|, III, Meas.", "f": 29.36, "dB": -56.0}, {"s": "|S₄₁|, III, Meas.", "f": 29.43, "dB": -62.0}, {"s": "|S₄₁|, III, Meas.", "f": 29.5, "dB": -57.0}, {"s": "|S₄₁|, III, Meas.", "f": 29.53, "dB": -55.0}, {"s": "|S₄₁|, III, Meas.", "f": 29.59, "dB": -50.7}, {"s": "|S₄₁|, III, Meas.", "f": 29.7, "dB": -47.6}, {"s": "|S₄₁|, III, Meas.", "f": 29.81, "dB": -45.3}, {"s": "|S₄₁|, III, Meas.", "f": 29.92, "dB": -43.1}, {"s": "|S₄₁|, III, Meas.", "f": 30.05, "dB": -42.8}, {"s": "|S₄₁|, III, Meas.", "f": 30.23, "dB": -42.3}, {"s": "|S₄₁|, III, Meas.", "f": 30.4, "dB": -44.2}, {"s": "|S₄₁|, III, Meas.", "f": 30.6, "dB": -46.4}, {"s": "|S₄₁|, III, Meas.", "f": 30.75, "dB": -47.3}, {"s": "|S₄₁|, III, Meas.", "f": 30.88, "dB": -46.6}, {"s": "|S₄₁|, III, Meas.", "f": 31.1, "dB": -46.3}, {"s": "|S₄₁|, III, Meas.", "f": 31.22, "dB": -45.3}, {"s": "|S₄₁|, III, Meas.", "f": 31.45, "dB": -45.3}, {"s": "|S₄₁|, III, Meas.", "f": 31.54, "dB": -46.4}, {"s": "|S₄₁|, III, Meas.", "f": 31.66, "dB": -48.0}, {"s": "|S₄₁|, III, Meas.", "f": 31.8, "dB": -49.1}, {"s": "|S₄₁|, III, Meas.", "f": 31.91, "dB": -46.4}, {"s": "|S₄₁|, III, Meas.", "f": 32.04, "dB": -44.2}, {"s": "|S₄₁|, III, Meas.", "f": 32.15, "dB": -43.5}, {"s": "|S₄₁|, III, Meas.", "f": 32.29, "dB": -43.9}, {"s": "|S₄₁|, III, Meas.", "f": 32.5, "dB": -43.9}, {"s": "|S₄₁|, III, Meas.", "f": 32.66, "dB": -43.4}, {"s": "|S₄₁|, III, Meas.", "f": 32.85, "dB": -43.2}, {"s": "|S₄₁|, III, Meas.", "f": 32.97, "dB": -44.5}, {"s": "|S₄₁|, III, Meas.", "f": 33.2, "dB": -44.6}, {"s": "|S₄₁|, III, Meas.", "f": 33.35, "dB": -44.7}, {"s": "|S₄₁|, III, Meas.", "f": 33.55, "dB": -44.6}, {"s": "|S₄₁|, III, Meas.", "f": 33.72, "dB": -45.6}, {"s": "|S₄₁|, III, Meas.", "f": 33.9, "dB": -45.2}, {"s": "|S₄₁|, III, Meas.", "f": 34.03, "dB": -43.7}, {"s": "|S₄₁|, III, Meas.", "f": 34.25, "dB": -43.8}, {"s": "|S₄₁|, III, Meas.", "f": 34.4, "dB": -44.5}, {"s": "|S₄₁|, III, Meas.", "f": 34.53, "dB": -45.3}, {"s": "|S₄₁|, III, Meas.", "f": 34.6, "dB": -45.8}, {"s": "|S₄₁|, III, Meas.", "f": 34.8, "dB": -47.5}, {"s": "|S₄₁|, III, Meas.", "f": 34.95, "dB": -49.5}, {"s": "|S₄₁|, III, Meas.", "f": 35, "dB": -49.6}
    ],
    "b_markers": [
      {"s": "|S₂₁|, III, Meas.", "f": 25.15, "dB": -18.8}, {"s": "|S₂₁|, III, Meas.", "f": 25.5, "dB": -18.8}, {"s": "|S₂₁|, III, Meas.", "f": 25.85, "dB": -18.9}, {"s": "|S₂₁|, III, Meas.", "f": 26.2, "dB": -21.5}, {"s": "|S₂₁|, III, Meas.", "f": 26.55, "dB": -23.1}, {"s": "|S₂₁|, III, Meas.", "f": 26.9, "dB": -24.3}, {"s": "|S₂₁|, III, Meas.", "f": 27.25, "dB": -25.5}, {"s": "|S₂₁|, III, Meas.", "f": 27.6, "dB": -25.4}, {"s": "|S₂₁|, III, Meas.", "f": 27.95, "dB": -26.6}, {"s": "|S₂₁|, III, Meas.", "f": 28.3, "dB": -26.1}, {"s": "|S₂₁|, III, Meas.", "f": 28.65, "dB": -27.2}, {"s": "|S₂₁|, III, Meas.", "f": 29.0, "dB": -27.1}, {"s": "|S₂₁|, III, Meas.", "f": 29.35, "dB": -28.6}, {"s": "|S₂₁|, III, Meas.", "f": 29.7, "dB": -29.1}, {"s": "|S₂₁|, III, Meas.", "f": 30.05, "dB": -31.5}, {"s": "|S₂₁|, III, Meas.", "f": 30.4, "dB": -33.5}, {"s": "|S₂₁|, III, Meas.", "f": 30.75, "dB": -36.6}, {"s": "|S₂₁|, III, Meas.", "f": 31.1, "dB": -40.8}, {"s": "|S₂₁|, III, Meas.", "f": 31.45, "dB": -47.9}, {"s": "|S₂₁|, III, Meas.", "f": 31.8, "dB": -39.9}, {"s": "|S₂₁|, III, Meas.", "f": 32.15, "dB": -35.4}, {"s": "|S₂₁|, III, Meas.", "f": 32.5, "dB": -33.3}, {"s": "|S₂₁|, III, Meas.", "f": 32.85, "dB": -30.1}, {"s": "|S₂₁|, III, Meas.", "f": 33.2, "dB": -29.9}, {"s": "|S₂₁|, III, Meas.", "f": 33.55, "dB": -29.1}, {"s": "|S₂₁|, III, Meas.", "f": 33.9, "dB": -29.5}, {"s": "|S₂₁|, III, Meas.", "f": 34.25, "dB": -29.5}, {"s": "|S₂₁|, III, Meas.", "f": 34.6, "dB": -29.5}, {"s": "|S₂₁|, III, Meas.", "f": 34.95, "dB": -29.2},
      {"s": "|S₄₁|, III, Meas.", "f": 25.15, "dB": -34.4}, {"s": "|S₄₁|, III, Meas.", "f": 25.5, "dB": -29.7}, {"s": "|S₄₁|, III, Meas.", "f": 25.85, "dB": -26.9}, {"s": "|S₄₁|, III, Meas.", "f": 26.2, "dB": -29.7}, {"s": "|S₄₁|, III, Meas.", "f": 26.55, "dB": -34.9}, {"s": "|S₄₁|, III, Meas.", "f": 26.9, "dB": -42.2}, {"s": "|S₄₁|, III, Meas.", "f": 27.25, "dB": -47.0}, {"s": "|S₄₁|, III, Meas.", "f": 27.6, "dB": -40.1}, {"s": "|S₄₁|, III, Meas.", "f": 27.95, "dB": -39.6}, {"s": "|S₄₁|, III, Meas.", "f": 28.3, "dB": -42.3}, {"s": "|S₄₁|, III, Meas.", "f": 28.65, "dB": -40.2}, {"s": "|S₄₁|, III, Meas.", "f": 29.0, "dB": -43.1}, {"s": "|S₄₁|, III, Meas.", "f": 29.7, "dB": -47.6}, {"s": "|S₄₁|, III, Meas.", "f": 30.05, "dB": -42.8}, {"s": "|S₄₁|, III, Meas.", "f": 30.4, "dB": -44.2}, {"s": "|S₄₁|, III, Meas.", "f": 30.75, "dB": -47.3}, {"s": "|S₄₁|, III, Meas.", "f": 31.1, "dB": -46.3}, {"s": "|S₄₁|, III, Meas.", "f": 31.45, "dB": -45.3}, {"s": "|S₄₁|, III, Meas.", "f": 31.8, "dB": -49.1}, {"s": "|S₄₁|, III, Meas.", "f": 32.15, "dB": -43.5}, {"s": "|S₄₁|, III, Meas.", "f": 32.5, "dB": -43.9}, {"s": "|S₄₁|, III, Meas.", "f": 32.85, "dB": -43.2}, {"s": "|S₄₁|, III, Meas.", "f": 33.2, "dB": -44.6}, {"s": "|S₄₁|, III, Meas.", "f": 33.55, "dB": -44.6}, {"s": "|S₄₁|, III, Meas.", "f": 33.9, "dB": -45.2}, {"s": "|S₄₁|, III, Meas.", "f": 34.25, "dB": -43.8}, {"s": "|S₄₁|, III, Meas.", "f": 34.6, "dB": -45.8}, {"s": "|S₄₁|, III, Meas.", "f": 34.95, "dB": -49.5}
    ]
  },
  "vconcat": [
    {
      "width": 534, "height": 338,
      "title": {"text": "(a) Co-polarization", "orient": "bottom", "offset": 25, "dx": -24},
      "resolve": {"axis": {"x": "independent", "y": "independent"}},
      "layer": [
        {
          "data": {"name": "a_lines"},
          "mark": {"type": "line", "strokeWidth": 2.2, "clip": true},
          "encoding": {
            "x": {"field": "f", "type": "quantitative", "scale": {"domain": [25, 35], "nice": false, "zero": false},
                  "axis": {"orient": "bottom", "values": [25, 26, 27, 28, 29, 30, 31, 32, 33, 34, 35], "title": "f / GHz", "grid": true, "labelPadding": 21, "titlePadding": 9}},
            "y": {"field": "dB", "type": "quantitative", "scale": {"domain": [-55, 0], "nice": false, "zero": false},
                  "axis": {"orient": "left", "values": [0, -5, -10, -15, -20, -25, -30, -35, -40, -45, -50, -55], "labelExpr": "'' + datum.value", "title": "|Sⱼᵢ| / dB", "grid": true, "labelPadding": 20.5, "titlePadding": 12}},
            "color": {"field": "s", "type": "nominal", "sort": null,
                      "scale": {"domain": ["|S₃₁|, I, Sim.", "|S₃₁|, II, Sim.", "|S₃₁|, III, Sim.", "|S₃₁|, III, Meas.", "|S₄₂|, I, Sim.", "|S₄₂|, II, Sim.", "|S₄₂|, III, Sim.", "|S₄₂|, III, Meas."],
                                "range": ["#b3141e", "#1ea81e", "#1414b4", "#1414b4", "#b414b4", "#b3a400", "#14a8a8", "#14a8a8"]},
                      "legend": {"title": null, "orient": "none", "legendX": 42.4, "legendY": 225, "columns": 2}},
            "strokeDash": {"field": "s", "type": "nominal", "sort": null,
                      "scale": {"domain": ["|S₃₁|, I, Sim.", "|S₃₁|, II, Sim.", "|S₃₁|, III, Sim.", "|S₃₁|, III, Meas.", "|S₄₂|, I, Sim.", "|S₄₂|, II, Sim.", "|S₄₂|, III, Sim.", "|S₄₂|, III, Meas."],
                                "range": [[1, 0], [9, 8], [2, 4], [2, 4], [10, 5, 3, 5], [9, 4, 2, 4, 2, 4], [1, 0], [1, 0]]},
                      "legend": {"title": null, "orient": "none", "legendX": 42.4, "legendY": 225, "columns": 2}}
          }
        },
        {
          "data": {"values": []},
          "mark": {"type": "point", "filled": false},
          "encoding": {
            "color": {"field": "s", "type": "nominal", "sort": null,
                      "scale": {"domain": ["|S₃₁|, I, Sim.", "|S₃₁|, II, Sim.", "|S₃₁|, III, Sim.", "|S₃₁|, III, Meas.", "|S₄₂|, I, Sim.", "|S₄₂|, II, Sim.", "|S₄₂|, III, Sim.", "|S₄₂|, III, Meas."]},
                      "legend": null},
            "shape": {"field": "s", "type": "nominal", "sort": null,
                      "scale": {"domain": ["|S₃₁|, I, Sim.", "|S₃₁|, II, Sim.", "|S₃₁|, III, Sim.", "|S₃₁|, III, Meas.", "|S₄₂|, I, Sim.", "|S₄₂|, II, Sim.", "|S₄₂|, III, Sim.", "|S₄₂|, III, Meas."],
                                "range": ["M-1.6,0H1.6", "M-1.6,0H1.6", "M-1.6,0H1.6", "M-1.6,0H1.6M-0.5,0H0.5M0,-0.5V0.5M-0.35,-0.35L0.35,0.35M-0.35,0.35L0.35,-0.35", "M-1.6,0H1.6", "M-1.6,0H1.6", "M-1.6,0H1.6", "M-1.6,0H-0.4M0.4,0H1.6M-0.4,0A0.4,0.4,0,1,0,0.4,0A0.4,0.4,0,1,0,-0.4,0"]},
                      "legend": {"title": null, "orient": "none", "legendX": 42.4, "legendY": 225, "columns": 2}}
          }
        },
        {
          "data": {"name": "a_markers"},
          "transform": [{"filter": "datum.s == '|S₃₁|, III, Meas.'"}],
          "mark": {"type": "point", "shape": "M-1,0H1M0,-1V1M-0.7,-0.7L0.7,0.7M-0.7,0.7L0.7,-0.7", "size": 100, "filled": false, "strokeWidth": 1.3, "opacity": 1, "clip": true},
          "encoding": {
            "x": {"field": "f", "type": "quantitative", "scale": {"domain": [25, 35], "nice": false, "zero": false},
                  "axis": {"orient": "top", "values": [26, 27, 28, 29, 30, 31, 32, 33, 34], "labels": false, "grid": false, "title": null}},
            "y": {"field": "dB", "type": "quantitative", "scale": {"domain": [-55, 0], "nice": false, "zero": false},
                  "axis": {"orient": "right", "values": [-5, -10, -15, -20, -25, -30, -35, -40, -45, -50], "labels": false, "grid": false, "title": null}},
            "color": {"field": "s", "type": "nominal", "sort": null,
                      "scale": {"domain": ["|S₃₁|, I, Sim.", "|S₃₁|, II, Sim.", "|S₃₁|, III, Sim.", "|S₃₁|, III, Meas.", "|S₄₂|, I, Sim.", "|S₄₂|, II, Sim.", "|S₄₂|, III, Sim.", "|S₄₂|, III, Meas."]},
                      "legend": null}
          }
        },
        {
          "data": {"name": "a_markers"},
          "transform": [{"filter": "datum.s == '|S₄₂|, III, Meas.'"}],
          "mark": {"type": "point", "shape": "circle", "size": 80, "filled": false, "strokeWidth": 1.3, "opacity": 1, "clip": true},
          "encoding": {
            "x": {"field": "f", "type": "quantitative", "scale": {"domain": [25, 35], "nice": false, "zero": false}, "axis": null},
            "y": {"field": "dB", "type": "quantitative", "scale": {"domain": [-55, 0], "nice": false, "zero": false}, "axis": null},
            "color": {"field": "s", "type": "nominal", "sort": null,
                      "scale": {"domain": ["|S₃₁|, I, Sim.", "|S₃₁|, II, Sim.", "|S₃₁|, III, Sim.", "|S₃₁|, III, Meas.", "|S₄₂|, I, Sim.", "|S₄₂|, II, Sim.", "|S₄₂|, III, Sim.", "|S₄₂|, III, Meas."]},
                      "legend": null}
          }
        }
      ]
    },
    {
      "width": 534, "height": 338,
      "title": {"text": "(b) Cross-polarization", "orient": "bottom", "offset": 25, "dx": -24},
      "resolve": {"axis": {"x": "independent", "y": "independent"}},
      "layer": [
        {
          "data": {"name": "b_lines"},
          "mark": {"type": "line", "strokeWidth": 2.2, "clip": true},
          "encoding": {
            "x": {"field": "f", "type": "quantitative", "scale": {"domain": [25, 35], "nice": false, "zero": false},
                  "axis": {"orient": "bottom", "values": [25, 26, 27, 28, 29, 30, 31, 32, 33, 34, 35], "title": "f / GHz", "grid": true, "labelPadding": 21, "titlePadding": 9}},
            "y": {"field": "dB", "type": "quantitative", "scale": {"domain": [-55, 0], "nice": false, "zero": false},
                  "axis": {"orient": "left", "values": [0, -5, -10, -15, -20, -25, -30, -35, -40, -45, -50, -55], "labelExpr": "'' + datum.value", "title": "|Sⱼᵢ| / dB", "grid": true, "labelPadding": 20.5, "titlePadding": 12}},
            "color": {"field": "s", "type": "nominal", "sort": null,
                      "scale": {"domain": ["|S₂₁|, I, Sim.", "|S₂₁|, II, Sim.", "|S₂₁|, III, Sim.", "|S₂₁|, III, Meas.", "|S₄₁|, I, Sim.", "|S₄₁|, II, Sim.", "|S₄₁|, III, Sim.", "|S₄₁|, III, Meas."],
                                "range": ["#b3141e", "#1ea81e", "#1414b4", "#1414b4", "#b414b4", "#b3a400", "#14a8a8", "#14a8a8"]},
                      "legend": {"title": null, "orient": "none", "legendX": 42.4, "legendY": 11.5, "columns": 2}},
            "strokeDash": {"field": "s", "type": "nominal", "sort": null,
                      "scale": {"domain": ["|S₂₁|, I, Sim.", "|S₂₁|, II, Sim.", "|S₂₁|, III, Sim.", "|S₂₁|, III, Meas.", "|S₄₁|, I, Sim.", "|S₄₁|, II, Sim.", "|S₄₁|, III, Sim.", "|S₄₁|, III, Meas."],
                                "range": [[1, 0], [9, 8], [2, 4], [2, 4], [10, 5, 3, 5], [9, 4, 2, 4, 2, 4], [1, 0], [1, 0]]},
                      "legend": {"title": null, "orient": "none", "legendX": 42.4, "legendY": 11.5, "columns": 2}}
          }
        },
        {
          "data": {"values": []},
          "mark": {"type": "point", "filled": false},
          "encoding": {
            "color": {"field": "s", "type": "nominal", "sort": null,
                      "scale": {"domain": ["|S₂₁|, I, Sim.", "|S₂₁|, II, Sim.", "|S₂₁|, III, Sim.", "|S₂₁|, III, Meas.", "|S₄₁|, I, Sim.", "|S₄₁|, II, Sim.", "|S₄₁|, III, Sim.", "|S₄₁|, III, Meas."]},
                      "legend": null},
            "shape": {"field": "s", "type": "nominal", "sort": null,
                      "scale": {"domain": ["|S₂₁|, I, Sim.", "|S₂₁|, II, Sim.", "|S₂₁|, III, Sim.", "|S₂₁|, III, Meas.", "|S₄₁|, I, Sim.", "|S₄₁|, II, Sim.", "|S₄₁|, III, Sim.", "|S₄₁|, III, Meas."],
                                "range": ["M-1.6,0H1.6", "M-1.6,0H1.6", "M-1.6,0H1.6", "M-1.6,0H1.6M-0.5,0H0.5M0,-0.5V0.5M-0.35,-0.35L0.35,0.35M-0.35,0.35L0.35,-0.35", "M-1.6,0H1.6", "M-1.6,0H1.6", "M-1.6,0H1.6", "M-1.6,0H-0.4M0.4,0H1.6M-0.4,0A0.4,0.4,0,1,0,0.4,0A0.4,0.4,0,1,0,-0.4,0"]},
                      "legend": {"title": null, "orient": "none", "legendX": 42.4, "legendY": 11.5, "columns": 2}}
          }
        },
        {
          "data": {"name": "b_markers"},
          "transform": [{"filter": "datum.s == '|S₂₁|, III, Meas.'"}],
          "mark": {"type": "point", "shape": "M-1,0H1M0,-1V1M-0.7,-0.7L0.7,0.7M-0.7,0.7L0.7,-0.7", "size": 100, "filled": false, "strokeWidth": 1.3, "opacity": 1, "clip": true},
          "encoding": {
            "x": {"field": "f", "type": "quantitative", "scale": {"domain": [25, 35], "nice": false, "zero": false},
                  "axis": {"orient": "top", "values": [26, 27, 28, 29, 30, 31, 32, 33, 34], "labels": false, "grid": false, "title": null}},
            "y": {"field": "dB", "type": "quantitative", "scale": {"domain": [-55, 0], "nice": false, "zero": false},
                  "axis": {"orient": "right", "values": [-5, -10, -15, -20, -25, -30, -35, -40, -45, -50], "labels": false, "grid": false, "title": null}},
            "color": {"field": "s", "type": "nominal", "sort": null,
                      "scale": {"domain": ["|S₂₁|, I, Sim.", "|S₂₁|, II, Sim.", "|S₂₁|, III, Sim.", "|S₂₁|, III, Meas.", "|S₄₁|, I, Sim.", "|S₄₁|, II, Sim.", "|S₄₁|, III, Sim.", "|S₄₁|, III, Meas."]},
                      "legend": null}
          }
        },
        {
          "data": {"name": "b_markers"},
          "transform": [{"filter": "datum.s == '|S₄₁|, III, Meas.'"}],
          "mark": {"type": "point", "shape": "circle", "size": 80, "filled": false, "strokeWidth": 1.3, "opacity": 1, "clip": true},
          "encoding": {
            "x": {"field": "f", "type": "quantitative", "scale": {"domain": [25, 35], "nice": false, "zero": false}, "axis": null},
            "y": {"field": "dB", "type": "quantitative", "scale": {"domain": [-55, 0], "nice": false, "zero": false}, "axis": null},
            "color": {"field": "s", "type": "nominal", "sort": null,
                      "scale": {"domain": ["|S₂₁|, I, Sim.", "|S₂₁|, II, Sim.", "|S₂₁|, III, Sim.", "|S₂₁|, III, Meas.", "|S₄₁|, I, Sim.", "|S₄₁|, II, Sim.", "|S₄₁|, III, Sim.", "|S₄₁|, III, Meas."]},
                      "legend": null}
          }
        }
      ]
    }
  ]
}
